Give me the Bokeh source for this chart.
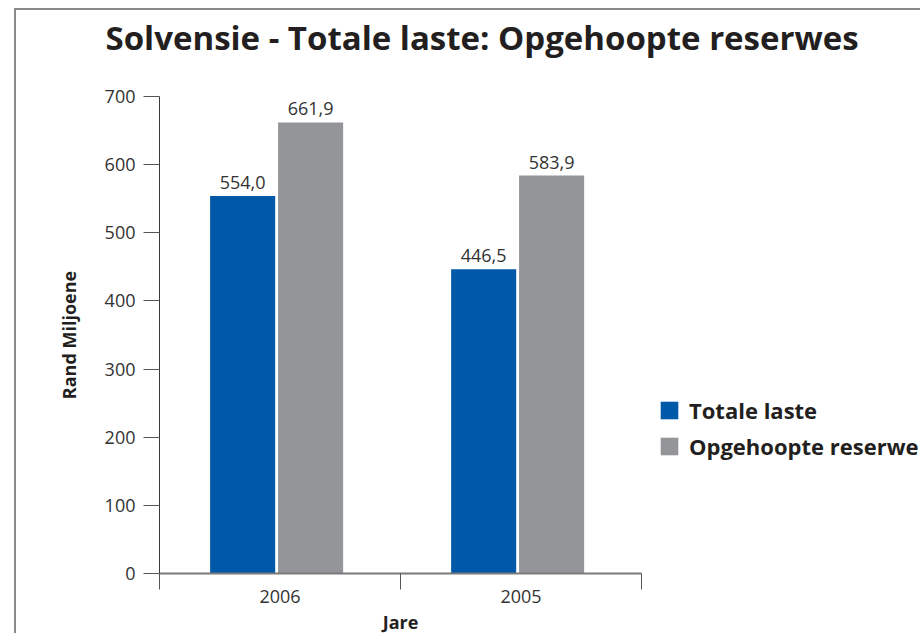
from bokeh.plotting import figure
from bokeh.models import (ColumnDataSource, Range1d, FixedTicker, LabelSet, Legend,
                          LegendItem, Title)
from bokeh.core.properties import value
from bokeh.embed import file_html
from bokeh.resources import INLINE

# ---- data ----
categories = ["2006", "2005"]
totale_laste = [554.0, 446.5]
opgehoopte_reserwes = [661.9, 583.9]
series_names = ["Totale laste", "Opgehoopte reserwe"]
y_ticks = [0, 100, 200, 300, 400, 500, 600, 700]
title_text = "Solvensie - Totale laste: Opgehoopte reserwes"

BLUE = "#0058a8"
GREY = "#939598"
TXT = "#231f20"
FONT = "Open Sans"

def fmt(v):
    return f"{v:.1f}".replace(".", ",")

centers = [i + 0.5 for i in range(len(categories))]
src_a = ColumnDataSource(dict(x=[c - 0.155 for c in centers], y=totale_laste,
                              lbl=[fmt(v) for v in totale_laste]))
src_b = ColumnDataSource(dict(x=[c + 0.127 for c in centers], y=opgehoopte_reserwes,
                              lbl=[fmt(v) for v in opgehoopte_reserwes]))

p = figure(frame_width=482, frame_height=477, output_backend="svg", toolbar_location=None,
           title=None,
           x_range=Range1d(0, len(categories)), y_range=Range1d(0, 700),
           min_border_left=143, min_border_right=0, min_border_top=86, min_border_bottom=60)
p.margin = (10, 0, 0, 16)
p.styles = {"box-shadow": "-2px -2px 0px 0px #8a8a8a"}
p.outline_line_color = None
p.xgrid.visible = False
p.ygrid.visible = False
p.background_fill_color = "white"
p.border_fill_color = "white"

r_a = p.vbar(x="x", top="y", width=0.27, source=src_a, fill_color=BLUE, line_color=None)
r_b = p.vbar(x="x", top="y", width=0.27, source=src_b, fill_color=GREY, line_color=None)

for src in (src_a, src_b):
    p.add_layout(LabelSet(x="x", y="y", text="lbl", source=src, y_offset=7,
                          text_align="center", text_baseline="bottom",
                          text_font=value(FONT), text_font_size="18px", text_color="#333333"))

# y axis
yax = p.yaxis[0]
yax.ticker = FixedTicker(ticks=y_ticks)
yax.minor_tick_line_color = None
yax.major_tick_in = 0
yax.major_tick_out = 16
yax.major_tick_line_color = "#555555"
yax.axis_line_color = "#3a3a3a"
yax.major_label_text_font = FONT
yax.major_label_text_font_size = "18px"
yax.major_label_text_color = "#333333"
yax.major_label_standoff = 8
yax.axis_label = "Rand Miljoene"
yax.axis_label_text_font = FONT
yax.axis_label_text_font_style = "bold"
yax.axis_label_text_font_size = "18px"
yax.axis_label_text_color = TXT
yax.axis_label_standoff = 21

# x axis: labels at centres, tick marks at category boundaries
xax = p.xaxis[0]
xax.ticker = FixedTicker(ticks=centers, minor_ticks=list(range(len(categories) + 1)))
xax.major_label_overrides = {c: cat for c, cat in zip(centers, categories)}
xax.major_tick_in = 0
xax.major_tick_out = 0
xax.minor_tick_in = 0
xax.minor_tick_out = 16
xax.minor_tick_line_color = "#555555"
xax.axis_line_color = "#7a7a7a"
xax.axis_line_width = 2
xax.major_label_text_font = FONT
xax.major_label_text_font_size = "18px"
xax.major_label_text_color = "#333333"
xax.major_label_standoff = 0
xax.axis_label = "Jare"
xax.axis_label_text_font = FONT
xax.axis_label_text_font_style = "bold"
xax.axis_label_text_font_size = "18px"
xax.axis_label_text_color = TXT
xax.axis_label_standoff = 4

# spacer (nearest the frame), then the title above it
p.add_layout(Title(text=" ", text_font_size="1px", standoff=34), "above")
p.add_layout(Title(text=title_text, align="left", offset=-54, standoff=0,
                   text_font=FONT, text_font_size="33px", text_font_style="bold",
                   text_color=TXT), "above")

legend = Legend(items=[LegendItem(label=series_names[0], renderers=[r_a]),
                       LegendItem(label=series_names[1], renderers=[r_b])],
                location=(17, 112), padding=0, margin=0, spacing=6,
                glyph_width=22, glyph_height=22, label_height=30, label_standoff=9,
                label_text_font=FONT, label_text_font_style="bold",
                label_text_font_size="22px", label_text_color=TXT,
                border_line_color=None, background_fill_alpha=0)
p.add_layout(legend, "right")

open("out.html", "w").write(file_html(p, INLINE))
